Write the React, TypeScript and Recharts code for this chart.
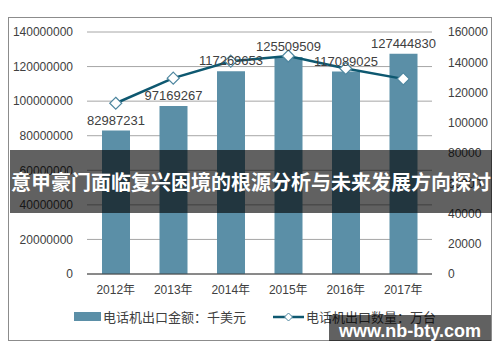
import React from 'react';
import { ComposedChart, Bar, Line, XAxis, YAxis, CartesianGrid, Legend, LabelList } from 'recharts';

const years = ['2012年', '2013年', '2014年', '2015年', '2016年', '2017年'];
const exportValue = [82987231, 97169267, 117269653, 125509509, 117089025, 127444830];
const exportQty = [112900, 129500, 140700, 144100, 135900, 129000];
const leftTicks = [0, 20000000, 40000000, 60000000, 80000000, 100000000, 120000000, 140000000];
const rightTicks = [0, 20000, 40000, 60000, 80000, 100000, 120000, 140000, 160000];

const data = years.map((name, i) => ({ name, value: exportValue[i], qty: exportQty[i] }));

const barColor = '#5b8fa7';
const lineColor = '#0e5870';
const font = '"Liberation Sans", Arial, "Noto Sans CJK SC", sans-serif';

const Diamond = (props: any) => {
  const { cx, cy } = props;
  if (cx == null || cy == null) return null;
  const r = 6;
  return (
    <path
      d={`M${cx},${cy - r} L${cx + r},${cy} L${cx},${cy + r} L${cx - r},${cy} Z`}
      fill="#fff"
      stroke="#4f87a0"
      strokeWidth={1.2}
    />
  );
};

const renderLegend = () => (
  <div style={{ display: 'flex', justifyContent: 'center', fontSize: 13, color: '#404040', fontFamily: font, marginLeft: 10 }}>
    <div style={{ display: 'flex', alignItems: 'center' }}>
      <span style={{ display: 'inline-block', width: 27, height: 9, background: barColor, marginRight: 2 }} />
      <span>电话机出口金额：千美元</span>
    </div>
    <div style={{ display: 'flex', alignItems: 'center', marginLeft: 27 }}>
      <svg width={31} height={12}>
        <line x1={0} y1={6} x2={31} y2={6} stroke={lineColor} strokeWidth={2.5} />
        <path d="M15.5,2 L19.5,6 L15.5,10 L11.5,6 Z" fill="#fff" stroke="#4f87a0" />
      </svg>
      <span style={{ marginLeft: 2 }}>电话机出口数量：万台</span>
    </div>
  </div>
);

export default function App() {
  return (
    <div style={{ position: 'relative', width: 484, height: 324, marginTop: 9, fontFamily: font }}>
      <div style={{ position: 'absolute', left: 0, top: 0, width: 482, height: 322, border: '1px solid #8c8c8c' }} />
      <ComposedChart
        width={484}
        height={324}
        data={data}
        margin={{ top: 15, right: 0, left: 0, bottom: 15 }}
        style={{ position: 'absolute', left: 0, top: 0 }}
      >
        <CartesianGrid vertical={false} stroke="#a6a6a6" yAxisId="left" />
        <XAxis
          dataKey="name"
          height={33}
          tickLine={false}
          axisLine={{ stroke: '#404040' }}
          tick={{ fontSize: 12, fill: '#404040', fontFamily: font }}
          tickMargin={5}
        />
        <YAxis
          yAxisId="left"
          width={79}
          domain={[0, 140000000]}
          ticks={leftTicks}
          tickLine={false}
          axisLine={false}
          tick={{ fontSize: 12, fill: '#404040', fontFamily: font }}
          tickMargin={8}
          interval={0}
        />
        <YAxis
          yAxisId="right"
          orientation="right"
          width={60}
          domain={[0, 160000]}
          ticks={rightTicks}
          tickLine={false}
          axisLine={false}
          tick={{ fontSize: 12, fill: '#404040', fontFamily: font, textAnchor: 'start' }}
          tickMargin={10}
          interval={0}
        />
        <Legend verticalAlign="bottom" content={renderLegend} />
        <Bar yAxisId="left" dataKey="value" fill={barColor} barSize={28} isAnimationActive={false}>
          <LabelList dataKey="value" position="top" offset={6} fill="#404040" fontSize={13} fontFamily={font} />
        </Bar>
        <Line
          yAxisId="right"
          dataKey="qty"
          stroke={lineColor}
          strokeWidth={2.5}
          dot={<Diamond />}
          activeDot={false}
          isAnimationActive={false}
        />
      </ComposedChart>
      <div
        style={{
          position: 'absolute', left: 2, top: 133, width: 482, height: 63,
          background: 'rgba(0,0,0,0.62)', color: '#fff', fontWeight: 'bold',
          fontSize: 20, fontFamily: '"Noto Sans CJK SC", sans-serif',
          display: 'flex', alignItems: 'center', justifyContent: 'center', whiteSpace: 'nowrap',
        }}
      >
        意甲豪门面临复兴困境的根源分析与未来发展方向探讨
      </div>
      <div
        style={{
          position: 'absolute', left: 321, top: 298, width: 162, height: 32,
          background: 'rgba(0,0,0,0.62)', borderBottom: '6px solid #000', color: '#fff',
          fontWeight: 'bold', fontSize: 18, fontFamily: '"Liberation Sans", Arial, sans-serif',
          display: 'flex', alignItems: 'center', justifyContent: 'center', whiteSpace: 'nowrap',
        }}
      >
        www.nb-bty.com
      </div>
    </div>
  );
}
